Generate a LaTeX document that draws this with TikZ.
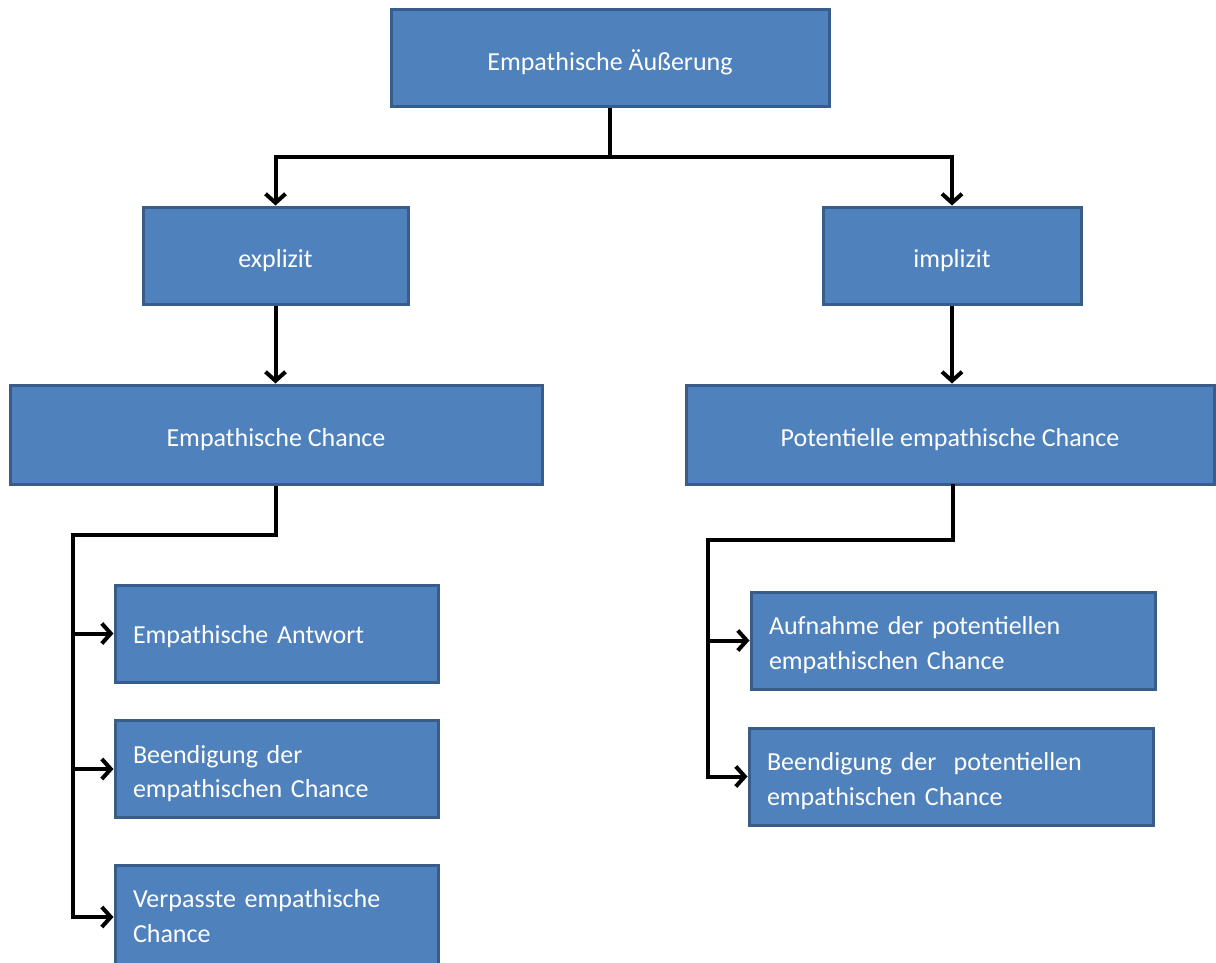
\documentclass[tikz,border=0pt]{standalone}
\usepackage{fontspec}
\setmainfont{Carlito}
\usetikzlibrary{arrows.meta}
\definecolor{boxblue}{HTML}{4F81BD}
\definecolor{boxedge}{HTML}{385D8A}
\begin{document}
\begin{tikzpicture}[x=1pt, y=-1pt,
    category/.style ={rectangle, draw=boxedge, fill=boxblue, line width=3pt, text=white, font=\fontsize{26}{34.5}\selectfont, inner sep=0pt, minimum height=97pt, text height=24pt, text depth=0pt},
    outcome/.style ={category, minimum width=323pt, text width=287pt, align=left, inner xsep=18pt, text height=20pt, text depth=32pt},
    link/.style ={line width=4pt, line join=miter, -{Straight Barb[length=9pt,width=20pt]}}]
   \useasboundingbox (0,0) rectangle (1216,963);
   \node[category, minimum width=438pt] (root) at (610,58.5) {Empathische Äußerung};
   \node[category, minimum width=265pt] (expl) at (275.5,255.5) {explizit};
   \node[category, minimum width=258pt] (impl) at (952,255.5) {implizit};
   \node[category, minimum width=532pt, minimum height=99pt] (chance) at (276,434.5) {Empathische Chance};
   \node[category, minimum width=528pt, minimum height=99pt] (potchance) at (950,434.5) {Potentielle empathische Chance};
   \node[outcome, text depth=0pt] (antwort) at (276.5,633.5) {Empathische Antwort};
   \node[outcome] (beendE) at (276.5,769) {Beendigung der\\empathischen Chance};
   \node[outcome, minimum height=104pt, text depth=39pt] (verpasst) at (276.5,917) {Verpasste empathische\\Chance};
   \node[outcome, minimum width=404pt, text width=368pt] (aufnahme) at (953,640.5) {Aufnahme der potentiellen\\empathischen Chance};
   \node[outcome, minimum width=404pt, text width=368pt] (beendP) at (951,776.5) {Beendigung der\ \ potentiellen\\empathischen Chance};
   \coordinate (fork) at (610,157);
   \coordinate (trunkL) at (73,535);
   \coordinate (trunkR) at (708,540);
   \draw[link] (root.south) -- (fork) -| (expl.north);
   \draw[link] (fork) -| (impl.north);
   \draw[link] (expl.south) -- (expl.south |- chance.north);
   \draw[link] (impl.south) -- (impl.south |- potchance.north);
   \draw[link] (chance.south) |- (trunkL) |- (verpasst.west);
   \draw[link] (trunkL |- antwort.west) -- (antwort.west);
   \draw[link] (trunkL |- beendE.west) -- (beendE.west);
   \draw[link] (953,484) |- (trunkR) |- (beendP.west);
   \draw[link] (trunkR |- aufnahme.west) -- (aufnahme.west);
 \end{tikzpicture}
\end{document}
